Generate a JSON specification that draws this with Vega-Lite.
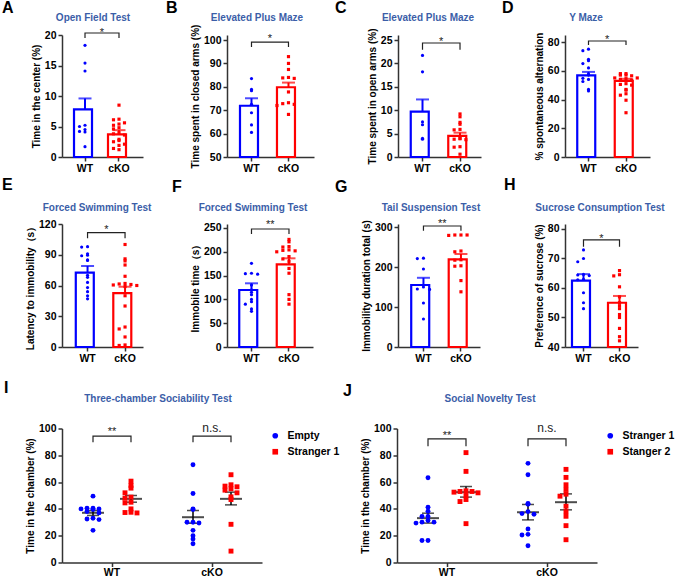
{
"$schema": "https://vega.github.io/schema/vega-lite/v6.json",
"background": "white",
"padding": {"left": 2, "top": 0, "right": 0, "bottom": 0},
"config": {
 "font": "Liberation Sans",
 "view": {"stroke": null},
 "axis": {"grid": false, "labelOverlap": false, "labelFontSize": 10.5, "labelFontWeight": "bold", "labelColor": "#000000", "titleFontSize": 10, "titleFontWeight": "bold", "titleColor": "#000000", "domainColor": "#333333", "domainWidth": 1.5, "tickColor": "#333333", "tickWidth": 1.5, "tickSize": 4, "labelPadding": 2, "titlePadding": 3},
 "axisX": {"labelAngle": 0},
 "legend": {"labelFontSize": 10.5, "labelFontWeight": "bold", "labelColor": "#000000", "symbolSize": 32, "rowPadding": 5, "offset": 6, "padding": 2, "labelOffset": 7}
},
"datasets": {
 "sum": [
  {"p":"A","g":"WT","m":7.8,"hi":9.6},{"p":"A","g":"cKO","m":3.7,"hi":4.4},
  {"p":"B","g":"WT","m":71.9,"hi":75.1},{"p":"B","g":"cKO","m":79.8,"hi":81.8},
  {"p":"C","g":"WT","m":9.7,"hi":12.3},{"p":"C","g":"cKO","m":4.5,"hi":5.2},
  {"p":"D","g":"WT","m":56.8,"hi":59.2},{"p":"D","g":"cKO","m":52.9,"hi":54.4},
  {"p":"E","g":"WT","m":72.5,"hi":79},{"p":"E","g":"cKO","m":52.5,"hi":58.8},
  {"p":"F","g":"WT","m":119.7,"hi":133.8},{"p":"F","g":"cKO","m":173.7,"hi":186.3},
  {"p":"G","g":"WT","m":155,"hi":173},{"p":"G","g":"cKO","m":219,"hi":232.5},
  {"p":"H","g":"WT","m":62.5,"hi":64.7},{"p":"H","g":"cKO","m":55,"hi":57.3}
 ],
 "sum2": [
  {"p":"I","g":"WT","c":"Empty","m":37.1,"lo":35.1,"hi":38.8},
  {"p":"I","g":"WT","c":"Stranger 1","m":47.5,"lo":45,"hi":50},
  {"p":"I","g":"cKO","c":"Empty","m":33.8,"lo":29.3,"hi":38.8},
  {"p":"I","g":"cKO","c":"Stranger 1","m":47.5,"lo":43,"hi":52.5},
  {"p":"J","g":"WT","c":"Stranger 1","m":33.1,"lo":29.4,"hi":36.8},
  {"p":"J","g":"WT","c":"Stanger 2","m":52.5,"lo":48.8,"hi":56.7},
  {"p":"J","g":"cKO","c":"Stranger 1","m":37.5,"lo":31.8,"hi":43.3},
  {"p":"J","g":"cKO","c":"Stanger 2","m":45,"lo":39.3,"hi":51.2}
 ],
 "pts": [
  {"p":"A","g":"WT","v":18.3},{"p":"A","g":"WT","v":15.4},{"p":"A","g":"WT","v":14.1},{"p":"A","g":"WT","v":5.2},{"p":"A","g":"WT","v":5.0},{"p":"A","g":"WT","v":4.5},{"p":"A","g":"WT","v":4.2},{"p":"A","g":"WT","v":4.1},{"p":"A","g":"WT","v":1.7},
  {"p":"A","g":"cKO","v":8.5},{"p":"A","g":"cKO","v":6.2},{"p":"A","g":"cKO","v":6.1},{"p":"A","g":"cKO","v":5.6},{"p":"A","g":"cKO","v":5.4},{"p":"A","g":"cKO","v":5.2},{"p":"A","g":"cKO","v":4.8},{"p":"A","g":"cKO","v":4.6},{"p":"A","g":"cKO","v":4.0},{"p":"A","g":"cKO","v":3.8},{"p":"A","g":"cKO","v":3.6},{"p":"A","g":"cKO","v":2.9},{"p":"A","g":"cKO","v":2.7},{"p":"A","g":"cKO","v":2.5},{"p":"A","g":"cKO","v":2.1},{"p":"A","g":"cKO","v":1.9},{"p":"A","g":"cKO","v":1.4},{"p":"A","g":"cKO","v":1.2},
  {"p":"B","g":"WT","v":83.5},{"p":"B","g":"WT","v":78.9},{"p":"B","g":"WT","v":78.3},{"p":"B","g":"WT","v":72.5},{"p":"B","g":"WT","v":68.9},{"p":"B","g":"WT","v":63.7},{"p":"B","g":"WT","v":60.5},
  {"p":"B","g":"cKO","v":92.9},{"p":"B","g":"cKO","v":90.0},{"p":"B","g":"cKO","v":87.4},{"p":"B","g":"cKO","v":84.0},{"p":"B","g":"cKO","v":83.8},{"p":"B","g":"cKO","v":83.6},{"p":"B","g":"cKO","v":77.8},{"p":"B","g":"cKO","v":73.2},{"p":"B","g":"cKO","v":72.8},{"p":"B","g":"cKO","v":72.5},{"p":"B","g":"cKO","v":72.0},{"p":"B","g":"cKO","v":68.2},
  {"p":"C","g":"WT","v":21.7},{"p":"C","g":"WT","v":18.2},{"p":"C","g":"WT","v":7.5},{"p":"C","g":"WT","v":6.9},{"p":"C","g":"WT","v":4.0},{"p":"C","g":"WT","v":3.8},
  {"p":"C","g":"cKO","v":9.2},{"p":"C","g":"cKO","v":8.6},{"p":"C","g":"cKO","v":7.4},{"p":"C","g":"cKO","v":7.0},{"p":"C","g":"cKO","v":5.9},{"p":"C","g":"cKO","v":5.8},{"p":"C","g":"cKO","v":4.0},{"p":"C","g":"cKO","v":3.9},{"p":"C","g":"cKO","v":3.8},{"p":"C","g":"cKO","v":3.7},{"p":"C","g":"cKO","v":2.2},{"p":"C","g":"cKO","v":2.1},{"p":"C","g":"cKO","v":0.6},
  {"p":"D","g":"WT","v":75},{"p":"D","g":"WT","v":74},{"p":"D","g":"WT","v":68},{"p":"D","g":"WT","v":67},{"p":"D","g":"WT","v":65},{"p":"D","g":"WT","v":62},{"p":"D","g":"WT","v":57.7},{"p":"D","g":"WT","v":57},{"p":"D","g":"WT","v":54.7},{"p":"D","g":"WT","v":54},{"p":"D","g":"WT","v":52.5},{"p":"D","g":"WT","v":47},{"p":"D","g":"WT","v":46},
  {"p":"D","g":"cKO","v":58},{"p":"D","g":"cKO","v":58},{"p":"D","g":"cKO","v":57},{"p":"D","g":"cKO","v":57},{"p":"D","g":"cKO","v":56.5},{"p":"D","g":"cKO","v":55},{"p":"D","g":"cKO","v":55},{"p":"D","g":"cKO","v":54.5},{"p":"D","g":"cKO","v":54},{"p":"D","g":"cKO","v":53.5},{"p":"D","g":"cKO","v":51},{"p":"D","g":"cKO","v":50.5},{"p":"D","g":"cKO","v":50},{"p":"D","g":"cKO","v":47},{"p":"D","g":"cKO","v":46.5},{"p":"D","g":"cKO","v":44},{"p":"D","g":"cKO","v":43},{"p":"D","g":"cKO","v":39.5},{"p":"D","g":"cKO","v":30.8},
  {"p":"E","g":"WT","v":97.9},{"p":"E","g":"WT","v":97.5},{"p":"E","g":"WT","v":91},{"p":"E","g":"WT","v":89.5},{"p":"E","g":"WT","v":89},{"p":"E","g":"WT","v":85},{"p":"E","g":"WT","v":84.5},{"p":"E","g":"WT","v":70},{"p":"E","g":"WT","v":68},{"p":"E","g":"WT","v":63},{"p":"E","g":"WT","v":58},{"p":"E","g":"WT","v":54},{"p":"E","g":"WT","v":50},{"p":"E","g":"WT","v":47},
  {"p":"E","g":"cKO","v":100},{"p":"E","g":"cKO","v":86},{"p":"E","g":"cKO","v":84},{"p":"E","g":"cKO","v":80},{"p":"E","g":"cKO","v":69},{"p":"E","g":"cKO","v":62},{"p":"E","g":"cKO","v":61.5},{"p":"E","g":"cKO","v":61},{"p":"E","g":"cKO","v":60.5},{"p":"E","g":"cKO","v":60},{"p":"E","g":"cKO","v":59},{"p":"E","g":"cKO","v":50},{"p":"E","g":"cKO","v":40},{"p":"E","g":"cKO","v":19.5},{"p":"E","g":"cKO","v":17.6},{"p":"E","g":"cKO","v":9.8},{"p":"E","g":"cKO","v":2},{"p":"E","g":"cKO","v":1.5},
  {"p":"F","g":"WT","v":175.8},{"p":"F","g":"WT","v":155},{"p":"F","g":"WT","v":154},{"p":"F","g":"WT","v":153},{"p":"F","g":"WT","v":130},{"p":"F","g":"WT","v":120},{"p":"F","g":"WT","v":115},{"p":"F","g":"WT","v":110},{"p":"F","g":"WT","v":100},{"p":"F","g":"WT","v":95},{"p":"F","g":"WT","v":90},{"p":"F","g":"WT","v":80},{"p":"F","g":"WT","v":75},
  {"p":"F","g":"cKO","v":226},{"p":"F","g":"cKO","v":221},{"p":"F","g":"cKO","v":211},{"p":"F","g":"cKO","v":210},{"p":"F","g":"cKO","v":204},{"p":"F","g":"cKO","v":203},{"p":"F","g":"cKO","v":202},{"p":"F","g":"cKO","v":200},{"p":"F","g":"cKO","v":190},{"p":"F","g":"cKO","v":185},{"p":"F","g":"cKO","v":180},{"p":"F","g":"cKO","v":165},{"p":"F","g":"cKO","v":155},{"p":"F","g":"cKO","v":110},{"p":"F","g":"cKO","v":100},{"p":"F","g":"cKO","v":90},
  {"p":"G","g":"WT","v":222},{"p":"G","g":"WT","v":221},{"p":"G","g":"WT","v":195},{"p":"G","g":"WT","v":150},{"p":"G","g":"WT","v":145},{"p":"G","g":"WT","v":144},{"p":"G","g":"WT","v":110},{"p":"G","g":"WT","v":70},
  {"p":"G","g":"cKO","v":280},{"p":"G","g":"cKO","v":280},{"p":"G","g":"cKO","v":280},{"p":"G","g":"cKO","v":279},{"p":"G","g":"cKO","v":240},{"p":"G","g":"cKO","v":238},{"p":"G","g":"cKO","v":218},{"p":"G","g":"cKO","v":217},{"p":"G","g":"cKO","v":203},{"p":"G","g":"cKO","v":202},{"p":"G","g":"cKO","v":166},{"p":"G","g":"cKO","v":138},
  {"p":"H","g":"WT","v":72.9},{"p":"H","g":"WT","v":70},{"p":"H","g":"WT","v":68.9},{"p":"H","g":"WT","v":64.6},{"p":"H","g":"WT","v":64.4},{"p":"H","g":"WT","v":64.2},{"p":"H","g":"WT","v":62.9},{"p":"H","g":"WT","v":62.8},{"p":"H","g":"WT","v":58.4},{"p":"H","g":"WT","v":55},{"p":"H","g":"WT","v":53},
  {"p":"H","g":"cKO","v":65.9},{"p":"H","g":"cKO","v":64.5},{"p":"H","g":"cKO","v":64.1},{"p":"H","g":"cKO","v":60.4},{"p":"H","g":"cKO","v":57},{"p":"H","g":"cKO","v":55},{"p":"H","g":"cKO","v":54},{"p":"H","g":"cKO","v":53},{"p":"H","g":"cKO","v":51},{"p":"H","g":"cKO","v":50},{"p":"H","g":"cKO","v":46.3},{"p":"H","g":"cKO","v":43.5},{"p":"H","g":"cKO","v":42.1},
  {"p":"I","g":"WT","c":"Empty","v":49.5},{"p":"I","g":"WT","c":"Empty","v":40.5},{"p":"I","g":"WT","c":"Empty","v":40.5},{"p":"I","g":"WT","c":"Empty","v":40},{"p":"I","g":"WT","c":"Empty","v":40},{"p":"I","g":"WT","c":"Empty","v":39.5},{"p":"I","g":"WT","c":"Empty","v":38},{"p":"I","g":"WT","c":"Empty","v":37},{"p":"I","g":"WT","c":"Empty","v":33},{"p":"I","g":"WT","c":"Empty","v":32.5},{"p":"I","g":"WT","c":"Empty","v":32},{"p":"I","g":"WT","c":"Empty","v":24},
  {"p":"I","g":"WT","c":"Stranger 1","v":60.7},{"p":"I","g":"WT","c":"Stranger 1","v":57.5},{"p":"I","g":"WT","c":"Stranger 1","v":55.5},{"p":"I","g":"WT","c":"Stranger 1","v":52},{"p":"I","g":"WT","c":"Stranger 1","v":48.8},{"p":"I","g":"WT","c":"Stranger 1","v":48},{"p":"I","g":"WT","c":"Stranger 1","v":45},{"p":"I","g":"WT","c":"Stranger 1","v":44.5},{"p":"I","g":"WT","c":"Stranger 1","v":40},{"p":"I","g":"WT","c":"Stranger 1","v":37.5},{"p":"I","g":"WT","c":"Stranger 1","v":37.3},{"p":"I","g":"WT","c":"Stranger 1","v":37},
  {"p":"I","g":"cKO","c":"Empty","v":73},{"p":"I","g":"cKO","c":"Empty","v":51.5},{"p":"I","g":"cKO","c":"Empty","v":40},{"p":"I","g":"cKO","c":"Empty","v":39.5},{"p":"I","g":"cKO","c":"Empty","v":30},{"p":"I","g":"cKO","c":"Empty","v":30},{"p":"I","g":"cKO","c":"Empty","v":29.5},{"p":"I","g":"cKO","c":"Empty","v":24},{"p":"I","g":"cKO","c":"Empty","v":20},{"p":"I","g":"cKO","c":"Empty","v":17.5},{"p":"I","g":"cKO","c":"Empty","v":14},
  {"p":"I","g":"cKO","c":"Stranger 1","v":65.5},{"p":"I","g":"cKO","c":"Stranger 1","v":58},{"p":"I","g":"cKO","c":"Stranger 1","v":57},{"p":"I","g":"cKO","c":"Stranger 1","v":56.5},{"p":"I","g":"cKO","c":"Stranger 1","v":55},{"p":"I","g":"cKO","c":"Stranger 1","v":54},{"p":"I","g":"cKO","c":"Stranger 1","v":52},{"p":"I","g":"cKO","c":"Stranger 1","v":49},{"p":"I","g":"cKO","c":"Stranger 1","v":47},{"p":"I","g":"cKO","c":"Stranger 1","v":28.5},{"p":"I","g":"cKO","c":"Stranger 1","v":8.5},
  {"p":"J","g":"WT","c":"Stranger 1","v":63.2},{"p":"J","g":"WT","c":"Stranger 1","v":41.3},{"p":"J","g":"WT","c":"Stranger 1","v":38.3},{"p":"J","g":"WT","c":"Stranger 1","v":34.3},{"p":"J","g":"WT","c":"Stranger 1","v":34.3},{"p":"J","g":"WT","c":"Stranger 1","v":31.3},{"p":"J","g":"WT","c":"Stranger 1","v":30.1},{"p":"J","g":"WT","c":"Stranger 1","v":30.1},{"p":"J","g":"WT","c":"Stranger 1","v":29.4},{"p":"J","g":"WT","c":"Stranger 1","v":16.4},{"p":"J","g":"WT","c":"Stranger 1","v":16.4},
  {"p":"J","g":"WT","c":"Stanger 2","v":82},{"p":"J","g":"WT","c":"Stanger 2","v":68},{"p":"J","g":"WT","c":"Stanger 2","v":53.5},{"p":"J","g":"WT","c":"Stanger 2","v":53},{"p":"J","g":"WT","c":"Stanger 2","v":53},{"p":"J","g":"WT","c":"Stanger 2","v":52.5},{"p":"J","g":"WT","c":"Stanger 2","v":52},{"p":"J","g":"WT","c":"Stanger 2","v":50},{"p":"J","g":"WT","c":"Stanger 2","v":47},{"p":"J","g":"WT","c":"Stanger 2","v":45.5},{"p":"J","g":"WT","c":"Stanger 2","v":29},
  {"p":"J","g":"cKO","c":"Stranger 1","v":74},{"p":"J","g":"cKO","c":"Stranger 1","v":65.5},{"p":"J","g":"cKO","c":"Stranger 1","v":44},{"p":"J","g":"cKO","c":"Stranger 1","v":43.5},{"p":"J","g":"cKO","c":"Stranger 1","v":38},{"p":"J","g":"cKO","c":"Stranger 1","v":36.5},{"p":"J","g":"cKO","c":"Stranger 1","v":36},{"p":"J","g":"cKO","c":"Stranger 1","v":25},{"p":"J","g":"cKO","c":"Stranger 1","v":21},{"p":"J","g":"cKO","c":"Stranger 1","v":20.5},{"p":"J","g":"cKO","c":"Stranger 1","v":12.5},
  {"p":"J","g":"cKO","c":"Stanger 2","v":69.5},{"p":"J","g":"cKO","c":"Stanger 2","v":63.5},{"p":"J","g":"cKO","c":"Stanger 2","v":58},{"p":"J","g":"cKO","c":"Stanger 2","v":54.5},{"p":"J","g":"cKO","c":"Stanger 2","v":51},{"p":"J","g":"cKO","c":"Stanger 2","v":49.5},{"p":"J","g":"cKO","c":"Stanger 2","v":42},{"p":"J","g":"cKO","c":"Stanger 2","v":38},{"p":"J","g":"cKO","c":"Stanger 2","v":34.5},{"p":"J","g":"cKO","c":"Stanger 2","v":27.5},{"p":"J","g":"cKO","c":"Stanger 2","v":17}
 ]
},
"spacing": 15.5,
"resolve": {"scale": {"color": "independent", "shape": "independent", "xOffset": "independent"}, "legend": {"color": "independent", "shape": "independent"}},
"vconcat": [
 {
  "columns": 4,
  "align": "none",
  "bounds": "flush",
  "spacing": {"row": 67, "column": 84},
  "resolve": {"scale": {"color": "independent", "shape": "independent", "xOffset": "independent"}, "legend": {"color": "independent", "shape": "independent"}},
  "concat": [
   {
    "width": 81, "height": 122,
    "layer": [
     {"data": {"name": "sum"}, "transform": [{"filter": "datum.p === 'A'"}], "mark": {"type": "bar", "filled": false, "strokeWidth": 2.2},
      "encoding": {"x": {"field": "g", "type": "nominal", "sort": ["WT","cKO"], "scale": {"paddingInner": 0.353, "paddingOuter": 0.368, "align": 0.48}, "axis": {"title": null}},
       "y": {"field": "m", "type": "quantitative", "scale": {"domain": [0,20], "nice": false}, "axis": {"title": "Time in the center (%)", "values": [0,5,10,15,20], "tickCount": 20, "labelOverlap": false}},
       "y2": {"datum": 0},
       "color": {"field": "g", "type": "nominal", "scale": {"domain": ["WT","cKO"], "range": ["#0000ff","#ff0000"]}, "legend": null}}},
     {"data": {"name": "sum"}, "transform": [{"filter": "datum.p === 'A'"}], "mark": {"type": "rule", "strokeWidth": 2},
      "encoding": {"x": {"field": "g", "type": "nominal", "sort": ["WT","cKO"]}, "y": {"field": "m", "type": "quantitative"}, "y2": {"field": "hi"}, "color": {"field": "g", "type": "nominal", "legend": null}}},
     {"data": {"name": "sum"}, "transform": [{"filter": "datum.p === 'A'"}], "mark": {"type": "tick", "thickness": 2, "size": 13},
      "encoding": {"x": {"field": "g", "type": "nominal", "sort": ["WT","cKO"]}, "y": {"field": "hi", "type": "quantitative"}, "color": {"field": "g", "type": "nominal", "legend": null}}},
     {"data": {"name": "pts"}, "transform": [{"filter": "datum.p === 'A'"}, {"bin": {"step": 0.7}, "field": "v", "as": "vb"}, {"window": [{"op": "row_number", "as": "r"}], "groupby": ["g","vb"], "sort": [{"field": "v", "order": "descending"}]}],
      "mark": {"type": "point", "filled": true, "size": 10, "opacity": 1},
      "encoding": {"x": {"field": "g", "type": "nominal", "sort": ["WT","cKO"]}, "xOffset": {"field": "r", "type": "ordinal", "scale": {"domain": [4,2,1,3,5], "paddingInner": 0, "paddingOuter": 0}},
       "y": {"field": "v", "type": "quantitative"}, "color": {"field": "g", "type": "nominal", "legend": null},
       "shape": {"field": "g", "type": "nominal", "scale": {"domain": ["WT","cKO"], "range": ["circle","square"]}, "legend": null}}},
     {"data": {"values": [{"g":"WT","y":19.5,"o":1},{"g":"WT","y":20.33,"o":2},{"g":"cKO","y":20.33,"o":3},{"g":"cKO","y":19.5,"o":4}]},
      "mark": {"type": "line", "color": "#222222", "strokeWidth": 1.2},
      "encoding": {"x": {"field": "g", "type": "nominal", "sort": ["WT","cKO"]}, "y": {"field": "y", "type": "quantitative"}, "order": {"field": "o", "type": "quantitative"}}},
     {"data": {"values": [{"t":"*","y":19.8}]}, "mark": {"type": "text", "dx": 17, "fontSize": 11, "baseline": "alphabetic", "color": "#222222"},
      "encoding": {"x": {"datum": "WT", "type": "nominal"}, "y": {"field": "y", "type": "quantitative"}, "text": {"field": "t"}}},
     {"data": {"values": [{"t":"Open Field Test","y":20}]}, "mark": {"type": "text", "dx": 8, "dy": -14.4, "fontSize": 10, "fontWeight": "bold", "color": "#3b5ea8", "baseline": "alphabetic", "align": "center"},
      "encoding": {"x": {"datum": "WT", "type": "nominal"}, "y": {"field": "y", "type": "quantitative"}, "text": {"field": "t"}}},
     {"data": {"values": [{"t":"A","y":20}]}, "mark": {"type": "text", "dx": -83, "dy": -22, "fontSize": 16, "fontWeight": "bold", "color": "#000000", "baseline": "alphabetic", "align": "left"},
      "encoding": {"x": {"datum": "WT", "type": "nominal"}, "y": {"field": "y", "type": "quantitative"}, "text": {"field": "t"}}}
    ]
   },
   {
    "width": 87, "height": 122,
    "layer": [
     {"data": {"name": "sum"}, "transform": [{"filter": "datum.p === 'B'"}], "mark": {"type": "bar", "filled": false, "strokeWidth": 2.2},
      "encoding": {"x": {"field": "g", "type": "nominal", "sort": ["WT","cKO"], "scale": {"paddingInner": 0.378, "paddingOuter": 0.365, "align": 0.481}, "axis": {"title": null}},
       "y": {"field": "m", "type": "quantitative", "scale": {"domain": [50,102.14], "nice": false}, "axis": {"title": "Time spent in closed arms (%)", "values": [50,60,70,80,90,100], "tickCount": 20, "labelOverlap": false}},
       "y2": {"datum": 50},
       "color": {"field": "g", "type": "nominal", "scale": {"domain": ["WT","cKO"], "range": ["#0000ff","#ff0000"]}, "legend": null}}},
     {"data": {"name": "sum"}, "transform": [{"filter": "datum.p === 'B'"}], "mark": {"type": "rule", "strokeWidth": 2},
      "encoding": {"x": {"field": "g", "type": "nominal", "sort": ["WT","cKO"]}, "y": {"field": "m", "type": "quantitative"}, "y2": {"field": "hi"}, "color": {"field": "g", "type": "nominal", "legend": null}}},
     {"data": {"name": "sum"}, "transform": [{"filter": "datum.p === 'B'"}], "mark": {"type": "tick", "thickness": 2, "size": 13},
      "encoding": {"x": {"field": "g", "type": "nominal", "sort": ["WT","cKO"]}, "y": {"field": "hi", "type": "quantitative"}, "color": {"field": "g", "type": "nominal", "legend": null}}},
     {"data": {"name": "pts"}, "transform": [{"filter": "datum.p === 'B'"}, {"bin": {"step": 1.6}, "field": "v", "as": "vb"}, {"window": [{"op": "row_number", "as": "r"}], "groupby": ["g","vb"], "sort": [{"field": "v", "order": "descending"}]}],
      "mark": {"type": "point", "filled": true, "size": 10, "opacity": 1},
      "encoding": {"x": {"field": "g", "type": "nominal", "sort": ["WT","cKO"]}, "xOffset": {"field": "r", "type": "ordinal", "scale": {"domain": [4,2,1,3,5], "paddingInner": 0, "paddingOuter": 0}},
       "y": {"field": "v", "type": "quantitative"}, "color": {"field": "g", "type": "nominal", "legend": null},
       "shape": {"field": "g", "type": "nominal", "scale": {"domain": ["WT","cKO"], "range": ["circle","square"]}, "legend": null}}},
     {"data": {"values": [{"g":"WT","y":97.0,"o":1},{"g":"WT","y":99.1,"o":2},{"g":"cKO","y":99.1,"o":3},{"g":"cKO","y":97.0,"o":4}]},
      "mark": {"type": "line", "color": "#222222", "strokeWidth": 1.2},
      "encoding": {"x": {"field": "g", "type": "nominal", "sort": ["WT","cKO"]}, "y": {"field": "y", "type": "quantitative"}, "order": {"field": "o", "type": "quantitative"}}},
     {"data": {"values": [{"t":"*","y":99.0}]}, "mark": {"type": "text", "dx": 18.5, "fontSize": 11, "baseline": "alphabetic", "color": "#222222"},
      "encoding": {"x": {"datum": "WT", "type": "nominal"}, "y": {"field": "y", "type": "quantitative"}, "text": {"field": "t"}}},
     {"data": {"values": [{"t":"Elevated Plus Maze","y":102.14}]}, "mark": {"type": "text", "dx": 5.5, "dy": -14.4, "fontSize": 10, "fontWeight": "bold", "color": "#3b5ea8", "baseline": "alphabetic", "align": "center"},
      "encoding": {"x": {"datum": "WT", "type": "nominal"}, "y": {"field": "y", "type": "quantitative"}, "text": {"field": "t"}}},
     {"data": {"values": [{"t":"B","y":102.14}]}, "mark": {"type": "text", "dx": -85.5, "dy": -22, "fontSize": 16, "fontWeight": "bold", "color": "#000000", "baseline": "alphabetic", "align": "left"},
      "encoding": {"x": {"datum": "WT", "type": "nominal"}, "y": {"field": "y", "type": "quantitative"}, "text": {"field": "t"}}}
    ]
   },
   {
    "width": 83, "height": 122,
    "layer": [
     {"data": {"name": "sum"}, "transform": [{"filter": "datum.p === 'C'"}], "mark": {"type": "bar", "filled": false, "strokeWidth": 2.2},
      "encoding": {"x": {"field": "g", "type": "nominal", "sort": ["WT","cKO"], "scale": {"paddingInner": 0.373, "paddingOuter": 0.293, "align": 0.58}, "axis": {"title": null}},
       "y": {"field": "m", "type": "quantitative", "scale": {"domain": [0,26.07], "nice": false}, "axis": {"title": "Time spent in open arms (%)", "values": [0,5,10,15,20,25], "tickCount": 20, "labelOverlap": false}},
       "y2": {"datum": 0},
       "color": {"field": "g", "type": "nominal", "scale": {"domain": ["WT","cKO"], "range": ["#0000ff","#ff0000"]}, "legend": null}}},
     {"data": {"name": "sum"}, "transform": [{"filter": "datum.p === 'C'"}], "mark": {"type": "rule", "strokeWidth": 2},
      "encoding": {"x": {"field": "g", "type": "nominal", "sort": ["WT","cKO"]}, "y": {"field": "m", "type": "quantitative"}, "y2": {"field": "hi"}, "color": {"field": "g", "type": "nominal", "legend": null}}},
     {"data": {"name": "sum"}, "transform": [{"filter": "datum.p === 'C'"}], "mark": {"type": "tick", "thickness": 2, "size": 13},
      "encoding": {"x": {"field": "g", "type": "nominal", "sort": ["WT","cKO"]}, "y": {"field": "hi", "type": "quantitative"}, "color": {"field": "g", "type": "nominal", "legend": null}}},
     {"data": {"name": "pts"}, "transform": [{"filter": "datum.p === 'C'"}, {"bin": {"step": 0.8}, "field": "v", "as": "vb"}, {"window": [{"op": "row_number", "as": "r"}], "groupby": ["g","vb"], "sort": [{"field": "v", "order": "descending"}]}],
      "mark": {"type": "point", "filled": true, "size": 10, "opacity": 1},
      "encoding": {"x": {"field": "g", "type": "nominal", "sort": ["WT","cKO"]}, "xOffset": {"field": "r", "type": "ordinal", "scale": {"domain": [4,2,1,3,5], "paddingInner": 0, "paddingOuter": 0}},
       "y": {"field": "v", "type": "quantitative"}, "color": {"field": "g", "type": "nominal", "legend": null},
       "shape": {"field": "g", "type": "nominal", "scale": {"domain": ["WT","cKO"], "range": ["circle","square"]}, "legend": null}}},
     {"data": {"values": [{"g":"WT","y":22.9,"o":1},{"g":"WT","y":24.36,"o":2},{"g":"cKO","y":24.36,"o":3},{"g":"cKO","y":22.9,"o":4}]},
      "mark": {"type": "line", "color": "#222222", "strokeWidth": 1.2},
      "encoding": {"x": {"field": "g", "type": "nominal", "sort": ["WT","cKO"]}, "y": {"field": "y", "type": "quantitative"}, "order": {"field": "o", "type": "quantitative"}}},
     {"data": {"values": [{"t":"*","y":23.87}]}, "mark": {"type": "text", "dx": 18.75, "fontSize": 11, "baseline": "alphabetic", "color": "#222222"},
      "encoding": {"x": {"datum": "WT", "type": "nominal"}, "y": {"field": "y", "type": "quantitative"}, "text": {"field": "t"}}},
     {"data": {"values": [{"t":"Elevated Plus Maze","y":26.07}]}, "mark": {"type": "text", "dx": 5.5, "dy": -14.4, "fontSize": 10, "fontWeight": "bold", "color": "#3b5ea8", "baseline": "alphabetic", "align": "center"},
      "encoding": {"x": {"datum": "WT", "type": "nominal"}, "y": {"field": "y", "type": "quantitative"}, "text": {"field": "t"}}},
     {"data": {"values": [{"t":"C","y":26.07}]}, "mark": {"type": "text", "dx": -87.5, "dy": -22, "fontSize": 16, "fontWeight": "bold", "color": "#000000", "baseline": "alphabetic", "align": "left"},
      "encoding": {"x": {"datum": "WT", "type": "nominal"}, "y": {"field": "y", "type": "quantitative"}, "text": {"field": "t"}}}
    ]
   },
   {
    "width": 85, "height": 122,
    "layer": [
     {"data": {"name": "sum"}, "transform": [{"filter": "datum.p === 'D'"}], "mark": {"type": "bar", "filled": false, "strokeWidth": 2.2},
      "encoding": {"x": {"field": "g", "type": "nominal", "sort": ["WT","cKO"], "scale": {"paddingInner": 0.4, "paddingOuter": 0.333, "align": 0.49}, "axis": {"title": null}},
       "y": {"field": "m", "type": "quantitative", "scale": {"domain": [0,84.87], "nice": false}, "axis": {"title": "% spontaneous alternation", "values": [0,20,40,60,80], "tickCount": 20, "labelOverlap": false}},
       "y2": {"datum": 0},
       "color": {"field": "g", "type": "nominal", "scale": {"domain": ["WT","cKO"], "range": ["#0000ff","#ff0000"]}, "legend": null}}},
     {"data": {"name": "sum"}, "transform": [{"filter": "datum.p === 'D'"}], "mark": {"type": "rule", "strokeWidth": 2},
      "encoding": {"x": {"field": "g", "type": "nominal", "sort": ["WT","cKO"]}, "y": {"field": "m", "type": "quantitative"}, "y2": {"field": "hi"}, "color": {"field": "g", "type": "nominal", "legend": null}}},
     {"data": {"name": "sum"}, "transform": [{"filter": "datum.p === 'D'"}], "mark": {"type": "tick", "thickness": 2, "size": 13},
      "encoding": {"x": {"field": "g", "type": "nominal", "sort": ["WT","cKO"]}, "y": {"field": "hi", "type": "quantitative"}, "color": {"field": "g", "type": "nominal", "legend": null}}},
     {"data": {"name": "pts"}, "transform": [{"filter": "datum.p === 'D'"}, {"bin": {"step": 2.6}, "field": "v", "as": "vb"}, {"window": [{"op": "row_number", "as": "r"}], "groupby": ["g","vb"], "sort": [{"field": "v", "order": "descending"}]}],
      "mark": {"type": "point", "filled": true, "size": 10, "opacity": 1},
      "encoding": {"x": {"field": "g", "type": "nominal", "sort": ["WT","cKO"]}, "xOffset": {"field": "r", "type": "ordinal", "scale": {"domain": [4,2,1,3,5], "paddingInner": 0, "paddingOuter": 0}},
       "y": {"field": "v", "type": "quantitative"}, "color": {"field": "g", "type": "nominal", "legend": null},
       "shape": {"field": "g", "type": "nominal", "scale": {"domain": ["WT","cKO"], "range": ["circle","square"]}, "legend": null}}},
     {"data": {"values": [{"g":"WT","y":77.9,"o":1},{"g":"WT","y":80.7,"o":2},{"g":"cKO","y":80.7,"o":3},{"g":"cKO","y":77.9,"o":4}]},
      "mark": {"type": "line", "color": "#222222", "strokeWidth": 1.2},
      "encoding": {"x": {"field": "g", "type": "nominal", "sort": ["WT","cKO"]}, "y": {"field": "y", "type": "quantitative"}, "order": {"field": "o", "type": "quantitative"}}},
     {"data": {"values": [{"t":"*","y":79.1}]}, "mark": {"type": "text", "dx": 18.75, "fontSize": 11, "baseline": "alphabetic", "color": "#222222"},
      "encoding": {"x": {"datum": "WT", "type": "nominal"}, "y": {"field": "y", "type": "quantitative"}, "text": {"field": "t"}}},
     {"data": {"values": [{"t":"Y Maze","y":84.87}]}, "mark": {"type": "text", "dx": -2.5, "dy": -14.4, "fontSize": 10, "fontWeight": "bold", "color": "#3b5ea8", "baseline": "alphabetic", "align": "center"},
      "encoding": {"x": {"datum": "WT", "type": "nominal"}, "y": {"field": "y", "type": "quantitative"}, "text": {"field": "t"}}},
     {"data": {"values": [{"t":"D","y":84.87}]}, "mark": {"type": "text", "dx": -86.5, "dy": -22, "fontSize": 16, "fontWeight": "bold", "color": "#000000", "baseline": "alphabetic", "align": "left"},
      "encoding": {"x": {"datum": "WT", "type": "nominal"}, "y": {"field": "y", "type": "quantitative"}, "text": {"field": "t"}}}
    ]
   },
   {
    "width": 81, "height": 123,
    "layer": [
     {"data": {"name": "sum"}, "transform": [{"filter": "datum.p === 'E'"}], "mark": {"type": "bar", "filled": false, "strokeWidth": 2.2},
      "encoding": {"x": {"field": "g", "type": "nominal", "sort": ["WT","cKO"], "scale": {"paddingInner": 0.373, "paddingOuter": 0.2665, "align": 0.69}, "axis": {"title": null}},
       "y": {"field": "m", "type": "quantitative", "scale": {"domain": [0,120], "nice": false}, "axis": {"title": "Latency to immobility（s）", "values": [0,30,60,90,120], "tickCount": 20, "labelOverlap": false}},
       "y2": {"datum": 0},
       "color": {"field": "g", "type": "nominal", "scale": {"domain": ["WT","cKO"], "range": ["#0000ff","#ff0000"]}, "legend": null}}},
     {"data": {"name": "sum"}, "transform": [{"filter": "datum.p === 'E'"}], "mark": {"type": "rule", "strokeWidth": 2},
      "encoding": {"x": {"field": "g", "type": "nominal", "sort": ["WT","cKO"]}, "y": {"field": "m", "type": "quantitative"}, "y2": {"field": "hi"}, "color": {"field": "g", "type": "nominal", "legend": null}}},
     {"data": {"name": "sum"}, "transform": [{"filter": "datum.p === 'E'"}], "mark": {"type": "tick", "thickness": 2, "size": 13},
      "encoding": {"x": {"field": "g", "type": "nominal", "sort": ["WT","cKO"]}, "y": {"field": "hi", "type": "quantitative"}, "color": {"field": "g", "type": "nominal", "legend": null}}},
     {"data": {"name": "pts"}, "transform": [{"filter": "datum.p === 'E'"}, {"bin": {"step": 2.5}, "field": "v", "as": "vb"}, {"window": [{"op": "row_number", "as": "r"}], "groupby": ["g","vb"], "sort": [{"field": "v", "order": "descending"}]}],
      "mark": {"type": "point", "filled": true, "size": 10, "opacity": 1},
      "encoding": {"x": {"field": "g", "type": "nominal", "sort": ["WT","cKO"]}, "xOffset": {"field": "r", "type": "ordinal", "scale": {"domain": [4,2,1,3,5], "paddingInner": 0, "paddingOuter": 0}},
       "y": {"field": "v", "type": "quantitative"}, "color": {"field": "g", "type": "nominal", "legend": null},
       "shape": {"field": "g", "type": "nominal", "scale": {"domain": ["WT","cKO"], "range": ["circle","square"]}, "legend": null}}},
     {"data": {"values": [{"g":"WT","y":106,"o":1},{"g":"WT","y":111.5,"o":2},{"g":"cKO","y":111.5,"o":3},{"g":"cKO","y":106,"o":4}]},
      "mark": {"type": "line", "color": "#222222", "strokeWidth": 1.2},
      "encoding": {"x": {"field": "g", "type": "nominal", "sort": ["WT","cKO"]}, "y": {"field": "y", "type": "quantitative"}, "order": {"field": "o", "type": "quantitative"}}},
     {"data": {"values": [{"t":"*","y":110.9}]}, "mark": {"type": "text", "dx": 18.75, "fontSize": 11, "baseline": "alphabetic", "color": "#222222"},
      "encoding": {"x": {"datum": "WT", "type": "nominal"}, "y": {"field": "y", "type": "quantitative"}, "text": {"field": "t"}}},
     {"data": {"values": [{"t":"Forced Swimming Test","y":120}]}, "mark": {"type": "text", "dx": 9.5, "dy": -13.4, "fontSize": 10, "fontWeight": "bold", "color": "#3b5ea8", "baseline": "alphabetic", "align": "center"},
      "encoding": {"x": {"datum": "WT", "type": "nominal"}, "y": {"field": "y", "type": "quantitative"}, "text": {"field": "t"}}},
     {"data": {"values": [{"t":"E","y":120}]}, "mark": {"type": "text", "dx": -85.5, "dy": -34, "fontSize": 16, "fontWeight": "bold", "color": "#000000", "baseline": "alphabetic", "align": "left"},
      "encoding": {"x": {"datum": "WT", "type": "nominal"}, "y": {"field": "y", "type": "quantitative"}, "text": {"field": "t"}}}
    ]
   },
   {
    "width": 86, "height": 123,
    "layer": [
     {"data": {"name": "sum"}, "transform": [{"filter": "datum.p === 'F'"}], "mark": {"type": "bar", "filled": false, "strokeWidth": 2.2},
      "encoding": {"x": {"field": "g", "type": "nominal", "sort": ["WT","cKO"], "scale": {"paddingInner": 0.347, "paddingOuter": 0.32, "align": 0.51}, "axis": {"title": null}},
       "y": {"field": "m", "type": "quantitative", "scale": {"domain": [0,258.4], "nice": false}, "axis": {"title": "Immobile time（s）", "values": [0,50,100,150,200,250], "tickCount": 20, "labelOverlap": false}},
       "y2": {"datum": 0},
       "color": {"field": "g", "type": "nominal", "scale": {"domain": ["WT","cKO"], "range": ["#0000ff","#ff0000"]}, "legend": null}}},
     {"data": {"name": "sum"}, "transform": [{"filter": "datum.p === 'F'"}], "mark": {"type": "rule", "strokeWidth": 2},
      "encoding": {"x": {"field": "g", "type": "nominal", "sort": ["WT","cKO"]}, "y": {"field": "m", "type": "quantitative"}, "y2": {"field": "hi"}, "color": {"field": "g", "type": "nominal", "legend": null}}},
     {"data": {"name": "sum"}, "transform": [{"filter": "datum.p === 'F'"}], "mark": {"type": "tick", "thickness": 2, "size": 13},
      "encoding": {"x": {"field": "g", "type": "nominal", "sort": ["WT","cKO"]}, "y": {"field": "hi", "type": "quantitative"}, "color": {"field": "g", "type": "nominal", "legend": null}}},
     {"data": {"name": "pts"}, "transform": [{"filter": "datum.p === 'F'"}, {"bin": {"step": 8}, "field": "v", "as": "vb"}, {"window": [{"op": "row_number", "as": "r"}], "groupby": ["g","vb"], "sort": [{"field": "v", "order": "descending"}]}],
      "mark": {"type": "point", "filled": true, "size": 10, "opacity": 1},
      "encoding": {"x": {"field": "g", "type": "nominal", "sort": ["WT","cKO"]}, "xOffset": {"field": "r", "type": "ordinal", "scale": {"domain": [4,2,1,3,5], "paddingInner": 0, "paddingOuter": 0}},
       "y": {"field": "v", "type": "quantitative"}, "color": {"field": "g", "type": "nominal", "legend": null},
       "shape": {"field": "g", "type": "nominal", "scale": {"domain": ["WT","cKO"], "range": ["circle","square"]}, "legend": null}}},
     {"data": {"values": [{"g":"WT","y":237.4,"o":1},{"g":"WT","y":247.9,"o":2},{"g":"cKO","y":247.9,"o":3},{"g":"cKO","y":237.4,"o":4}]},
      "mark": {"type": "line", "color": "#222222", "strokeWidth": 1.2},
      "encoding": {"x": {"field": "g", "type": "nominal", "sort": ["WT","cKO"]}, "y": {"field": "y", "type": "quantitative"}, "order": {"field": "o", "type": "quantitative"}}},
     {"data": {"values": [{"t":"**","y":250}]}, "mark": {"type": "text", "dx": 18.75, "fontSize": 11, "baseline": "alphabetic", "color": "#222222"},
      "encoding": {"x": {"datum": "WT", "type": "nominal"}, "y": {"field": "y", "type": "quantitative"}, "text": {"field": "t"}}},
     {"data": {"values": [{"t":"Forced Swimming Test","y":258.4}]}, "mark": {"type": "text", "dx": 1.5, "dy": -13.4, "fontSize": 10, "fontWeight": "bold", "color": "#3b5ea8", "baseline": "alphabetic", "align": "center"},
      "encoding": {"x": {"datum": "WT", "type": "nominal"}, "y": {"field": "y", "type": "quantitative"}, "text": {"field": "t"}}},
     {"data": {"values": [{"t":"F","y":258.4}]}, "mark": {"type": "text", "dx": -79.5, "dy": -32, "fontSize": 16, "fontWeight": "bold", "color": "#000000", "baseline": "alphabetic", "align": "left"},
      "encoding": {"x": {"datum": "WT", "type": "nominal"}, "y": {"field": "y", "type": "quantitative"}, "text": {"field": "t"}}}
    ]
   },
   {
    "width": 82, "height": 123,
    "layer": [
     {"data": {"name": "sum"}, "transform": [{"filter": "datum.p === 'G'"}], "mark": {"type": "bar", "filled": false, "strokeWidth": 2.2},
      "encoding": {"x": {"field": "g", "type": "nominal", "sort": ["WT","cKO"], "scale": {"paddingInner": 0.347, "paddingOuter": 0.267, "align": 0.66}, "axis": {"title": null}},
       "y": {"field": "m", "type": "quantitative", "scale": {"domain": [0,307.5], "nice": false}, "axis": {"title": "Immobility duration total (s)", "values": [0,100,200,300], "tickCount": 20, "labelOverlap": false}},
       "y2": {"datum": 0},
       "color": {"field": "g", "type": "nominal", "scale": {"domain": ["WT","cKO"], "range": ["#0000ff","#ff0000"]}, "legend": null}}},
     {"data": {"name": "sum"}, "transform": [{"filter": "datum.p === 'G'"}], "mark": {"type": "rule", "strokeWidth": 2},
      "encoding": {"x": {"field": "g", "type": "nominal", "sort": ["WT","cKO"]}, "y": {"field": "m", "type": "quantitative"}, "y2": {"field": "hi"}, "color": {"field": "g", "type": "nominal", "legend": null}}},
     {"data": {"name": "sum"}, "transform": [{"filter": "datum.p === 'G'"}], "mark": {"type": "tick", "thickness": 2, "size": 13},
      "encoding": {"x": {"field": "g", "type": "nominal", "sort": ["WT","cKO"]}, "y": {"field": "hi", "type": "quantitative"}, "color": {"field": "g", "type": "nominal", "legend": null}}},
     {"data": {"name": "pts"}, "transform": [{"filter": "datum.p === 'G'"}, {"bin": {"step": 9}, "field": "v", "as": "vb"}, {"window": [{"op": "row_number", "as": "r"}], "groupby": ["g","vb"], "sort": [{"field": "v", "order": "descending"}]}],
      "mark": {"type": "point", "filled": true, "size": 10, "opacity": 1},
      "encoding": {"x": {"field": "g", "type": "nominal", "sort": ["WT","cKO"]}, "xOffset": {"field": "r", "type": "ordinal", "scale": {"domain": [4,2,1,3,5], "paddingInner": 0, "paddingOuter": 0}},
       "y": {"field": "v", "type": "quantitative"}, "color": {"field": "g", "type": "nominal", "legend": null},
       "shape": {"field": "g", "type": "nominal", "scale": {"domain": ["WT","cKO"], "range": ["circle","square"]}, "legend": null}}},
     {"data": {"values": [{"g":"WT","y":290.8,"o":1},{"g":"WT","y":302.5,"o":2},{"g":"cKO","y":302.5,"o":3},{"g":"cKO","y":290.8,"o":4}]},
      "mark": {"type": "line", "color": "#222222", "strokeWidth": 1.2},
      "encoding": {"x": {"field": "g", "type": "nominal", "sort": ["WT","cKO"]}, "y": {"field": "y", "type": "quantitative"}, "order": {"field": "o", "type": "quantitative"}}},
     {"data": {"values": [{"t":"**","y":299}]}, "mark": {"type": "text", "dx": 18.75, "fontSize": 11, "baseline": "alphabetic", "color": "#222222"},
      "encoding": {"x": {"datum": "WT", "type": "nominal"}, "y": {"field": "y", "type": "quantitative"}, "text": {"field": "t"}}},
     {"data": {"values": [{"t":"Tail Suspension Test","y":307.5}]}, "mark": {"type": "text", "dx": 7.5, "dy": -13.4, "fontSize": 10, "fontWeight": "bold", "color": "#3b5ea8", "baseline": "alphabetic", "align": "center"},
      "encoding": {"x": {"datum": "WT", "type": "nominal"}, "y": {"field": "y", "type": "quantitative"}, "text": {"field": "t"}}},
     {"data": {"values": [{"t":"G","y":307.5}]}, "mark": {"type": "text", "dx": -88.5, "dy": -32, "fontSize": 16, "fontWeight": "bold", "color": "#000000", "baseline": "alphabetic", "align": "left"},
      "encoding": {"x": {"datum": "WT", "type": "nominal"}, "y": {"field": "y", "type": "quantitative"}, "text": {"field": "t"}}}
    ]
   },
   {
    "width": 73, "height": 123,
    "layer": [
     {"data": {"name": "sum"}, "transform": [{"filter": "datum.p === 'H'"}], "mark": {"type": "bar", "filled": false, "strokeWidth": 2.2},
      "encoding": {"x": {"field": "g", "type": "nominal", "sort": ["WT","cKO"], "scale": {"paddingInner": 0.361, "paddingOuter": 0.194, "align": 0.5}, "axis": {"title": null}},
       "y": {"field": "m", "type": "quantitative", "scale": {"domain": [40,81.69], "nice": false}, "axis": {"title": "Preference of sucrose (%)", "values": [40,50,60,70,80], "tickCount": 20, "labelOverlap": false}},
       "y2": {"datum": 40},
       "color": {"field": "g", "type": "nominal", "scale": {"domain": ["WT","cKO"], "range": ["#0000ff","#ff0000"]}, "legend": null}}},
     {"data": {"name": "sum"}, "transform": [{"filter": "datum.p === 'H'"}], "mark": {"type": "rule", "strokeWidth": 2},
      "encoding": {"x": {"field": "g", "type": "nominal", "sort": ["WT","cKO"]}, "y": {"field": "m", "type": "quantitative"}, "y2": {"field": "hi"}, "color": {"field": "g", "type": "nominal", "legend": null}}},
     {"data": {"name": "sum"}, "transform": [{"filter": "datum.p === 'H'"}], "mark": {"type": "tick", "thickness": 2, "size": 13},
      "encoding": {"x": {"field": "g", "type": "nominal", "sort": ["WT","cKO"]}, "y": {"field": "hi", "type": "quantitative"}, "color": {"field": "g", "type": "nominal", "legend": null}}},
     {"data": {"name": "pts"}, "transform": [{"filter": "datum.p === 'H'"}, {"bin": {"step": 1.3}, "field": "v", "as": "vb"}, {"window": [{"op": "row_number", "as": "r"}], "groupby": ["g","vb"], "sort": [{"field": "v", "order": "descending"}]}],
      "mark": {"type": "point", "filled": true, "size": 10, "opacity": 1},
      "encoding": {"x": {"field": "g", "type": "nominal", "sort": ["WT","cKO"]}, "xOffset": {"field": "r", "type": "ordinal", "scale": {"domain": [4,2,1,3,5], "paddingInner": 0, "paddingOuter": 0}},
       "y": {"field": "v", "type": "quantitative"}, "color": {"field": "g", "type": "nominal", "legend": null},
       "shape": {"field": "g", "type": "nominal", "scale": {"domain": ["WT","cKO"], "range": ["circle","square"]}, "legend": null}}},
     {"data": {"values": [{"g":"WT","y":74,"o":1},{"g":"WT","y":76.3,"o":2},{"g":"cKO","y":76.3,"o":3},{"g":"cKO","y":74,"o":4}]},
      "mark": {"type": "line", "color": "#222222", "strokeWidth": 1.2},
      "encoding": {"x": {"field": "g", "type": "nominal", "sort": ["WT","cKO"]}, "y": {"field": "y", "type": "quantitative"}, "order": {"field": "o", "type": "quantitative"}}},
     {"data": {"values": [{"t":"*","y":75.5}]}, "mark": {"type": "text", "dx": 18, "fontSize": 11, "baseline": "alphabetic", "color": "#222222"},
      "encoding": {"x": {"datum": "WT", "type": "nominal"}, "y": {"field": "y", "type": "quantitative"}, "text": {"field": "t"}}},
     {"data": {"values": [{"t":"Sucrose Consumption Test","y":81.69}]}, "mark": {"type": "text", "dx": 16.5, "dy": -13.4, "fontSize": 10, "fontWeight": "bold", "color": "#3b5ea8", "baseline": "alphabetic", "align": "center"},
      "encoding": {"x": {"datum": "WT", "type": "nominal"}, "y": {"field": "y", "type": "quantitative"}, "text": {"field": "t"}}},
     {"data": {"values": [{"t":"H","y":81.69}]}, "mark": {"type": "text", "dx": -79.5, "dy": -34, "fontSize": 16, "fontWeight": "bold", "color": "#000000", "baseline": "alphabetic", "align": "left"},
      "encoding": {"x": {"datum": "WT", "type": "nominal"}, "y": {"field": "y", "type": "quantitative"}, "text": {"field": "t"}}}
    ]
   }
  ]
 },
 {
  "bounds": "flush",
  "spacing": 135,
  "resolve": {"scale": {"color": "independent", "shape": "independent", "xOffset": "independent"}, "legend": {"color": "independent", "shape": "independent"}},
  "hconcat": [
   {
    "width": 200, "height": 134,
    "layer": [
     {"layer": [
      {"data": {"name": "sum2"}, "transform": [{"filter": "datum.p === 'I'"}], "mark": {"type": "tick", "color": "#000000", "thickness": 2, "size": 22},
       "encoding": {"x": {"field": "g", "type": "nominal", "sort": ["WT","cKO"], "scale": {"paddingInner": 0, "paddingOuter": 0}, "axis": {"title": null, "labelPadding": 1}},
        "xOffset": {"field": "c", "type": "nominal", "sort": ["Empty","Stranger 1"], "scale": {"paddingInner": 0.368, "paddingOuter": 0.5}},
        "y": {"field": "m", "type": "quantitative", "scale": {"domain": [0,100], "nice": false}, "axis": {"title": "Time in the chamber (%)", "values": [0,20,40,60,80,100], "tickCount": 20, "labelOverlap": false}}}},
      {"data": {"name": "sum2"}, "transform": [{"filter": "datum.p === 'I'"}], "mark": {"type": "rule", "color": "#000000", "strokeWidth": 1.5},
       "encoding": {"x": {"field": "g", "type": "nominal", "sort": ["WT","cKO"]}, "xOffset": {"field": "c", "type": "nominal", "sort": ["Empty","Stranger 1"]}, "y": {"field": "lo", "type": "quantitative"}, "y2": {"field": "hi"}}},
      {"data": {"name": "sum2"}, "transform": [{"filter": "datum.p === 'I'"}, {"fold": ["lo","hi"], "as": ["k","val"]}], "mark": {"type": "tick", "color": "#000000", "thickness": 1.5, "size": 12},
       "encoding": {"x": {"field": "g", "type": "nominal", "sort": ["WT","cKO"]}, "xOffset": {"field": "c", "type": "nominal", "sort": ["Empty","Stranger 1"]}, "y": {"field": "val", "type": "quantitative"}}},
      {"data": {"values": [{"g":"WT","c":"Empty","y":89.8,"o":1},{"g":"WT","c":"Empty","y":94.25,"o":2},{"g":"WT","c":"Stranger 1","y":94.25,"o":3},{"g":"WT","c":"Stranger 1","y":89.8,"o":4},{"g":"cKO","c":"Empty","y":89.8,"o":1},{"g":"cKO","c":"Empty","y":94.25,"o":2},{"g":"cKO","c":"Stranger 1","y":94.25,"o":3},{"g":"cKO","c":"Stranger 1","y":89.8,"o":4}]},
       "mark": {"type": "line", "color": "#222222", "strokeWidth": 1.2},
       "encoding": {"x": {"field": "g", "type": "nominal", "sort": ["WT","cKO"]}, "xOffset": {"field": "c", "type": "nominal", "sort": ["Empty","Stranger 1"]}, "y": {"field": "y", "type": "quantitative"}, "detail": {"field": "g"}, "order": {"field": "o", "type": "quantitative"}}},
      {"data": {"values": [{"g":"WT","t":"**","y":95.3}]}, "mark": {"type": "text", "fontSize": 11, "baseline": "alphabetic", "color": "#222222"},
       "encoding": {"x": {"field": "g", "type": "nominal", "sort": ["WT","cKO"]}, "y": {"field": "y", "type": "quantitative"}, "text": {"field": "t"}}},
      {"data": {"values": [{"g":"cKO","t":"n.s.","y":97.7}]}, "mark": {"type": "text", "fontSize": 12, "baseline": "alphabetic", "color": "#222222"},
       "encoding": {"x": {"field": "g", "type": "nominal", "sort": ["WT","cKO"]}, "y": {"field": "y", "type": "quantitative"}, "text": {"field": "t"}}},
      {"data": {"values": [{"g":"WT","t":"Three-chamber Sociability Test","y":100}]}, "mark": {"type": "text", "dx": 46, "dy": -26.4, "fontSize": 10, "fontWeight": "bold", "color": "#3b5ea8", "baseline": "alphabetic", "align": "center"},
       "encoding": {"x": {"field": "g", "type": "nominal", "sort": ["WT","cKO"]}, "y": {"field": "y", "type": "quantitative"}, "text": {"field": "t"}}},
      {"data": {"values": [{"g":"WT","t":"I","y":100}]}, "mark": {"type": "text", "dx": -108, "dy": -36, "fontSize": 16, "fontWeight": "bold", "color": "#000000", "baseline": "alphabetic", "align": "left"},
       "encoding": {"x": {"field": "g", "type": "nominal", "sort": ["WT","cKO"]}, "y": {"field": "y", "type": "quantitative"}, "text": {"field": "t"}}}
     ]},
     {"data": {"name": "pts"}, "transform": [{"filter": "datum.p === 'I' && datum.c === 'Empty'"}, {"bin": {"step": 4}, "field": "v", "as": "vb"}, {"window": [{"op": "row_number", "as": "r"}], "groupby": ["g","vb"], "sort": [{"field": "v", "order": "descending"}]}],
      "mark": {"type": "point", "filled": true, "size": 24, "opacity": 1},
      "encoding": {"x": {"field": "g", "type": "nominal", "sort": ["WT","cKO"], "scale": {"paddingInner": 0.76, "paddingOuter": 0.38, "align": 0.25}, "axis": null},
       "xOffset": {"field": "r", "type": "ordinal", "scale": {"domain": [4,2,1,3,5], "paddingInner": 0, "paddingOuter": 0}},
       "y": {"field": "v", "type": "quantitative"},
       "color": {"field": "c", "type": "nominal", "scale": {"domain": ["Empty","Stranger 1"], "range": ["#0000ff","#ff0000"]}, "legend": {"title": null}},
       "shape": {"field": "c", "type": "nominal", "scale": {"domain": ["Empty","Stranger 1"], "range": ["circle","square"]}, "legend": {"title": null}}}},
     {"data": {"name": "pts"}, "transform": [{"filter": "datum.p === 'I' && datum.c === 'Stranger 1'"}, {"bin": {"step": 4}, "field": "v", "as": "vb"}, {"window": [{"op": "row_number", "as": "r"}], "groupby": ["g","vb"], "sort": [{"field": "v", "order": "descending"}]}],
      "mark": {"type": "point", "filled": true, "size": 24, "opacity": 1},
      "encoding": {"x": {"field": "g", "type": "nominal", "sort": ["WT","cKO"], "scale": {"paddingInner": 0.76, "paddingOuter": 0.38, "align": 0.75}, "axis": null},
       "xOffset": {"field": "r", "type": "ordinal", "scale": {"domain": [4,2,1,3,5], "paddingInner": 0, "paddingOuter": 0}},
       "y": {"field": "v", "type": "quantitative"},
       "color": {"field": "c", "type": "nominal", "scale": {"domain": ["Empty","Stranger 1"], "range": ["#0000ff","#ff0000"]}, "legend": {"title": null}},
       "shape": {"field": "c", "type": "nominal", "scale": {"domain": ["Empty","Stranger 1"], "range": ["circle","square"]}, "legend": {"title": null}}}}
    ],
    "resolve": {"scale": {"x": "independent", "xOffset": "independent"}, "axis": {"x": "independent"}}
   },
   {
    "width": 200, "height": 134,
    "layer": [
     {"layer": [
      {"data": {"name": "sum2"}, "transform": [{"filter": "datum.p === 'J'"}], "mark": {"type": "tick", "color": "#000000", "thickness": 2, "size": 22},
       "encoding": {"x": {"field": "g", "type": "nominal", "sort": ["WT","cKO"], "scale": {"paddingInner": 0, "paddingOuter": 0}, "axis": {"title": null, "labelPadding": 1}},
        "xOffset": {"field": "c", "type": "nominal", "sort": ["Stranger 1","Stanger 2"], "scale": {"paddingInner": 0.368, "paddingOuter": 0.5}},
        "y": {"field": "m", "type": "quantitative", "scale": {"domain": [0,100], "nice": false}, "axis": {"title": "Time in the chamber (%)", "values": [0,20,40,60,80,100], "tickCount": 20, "labelOverlap": false}}}},
      {"data": {"name": "sum2"}, "transform": [{"filter": "datum.p === 'J'"}], "mark": {"type": "rule", "color": "#000000", "strokeWidth": 1.5},
       "encoding": {"x": {"field": "g", "type": "nominal", "sort": ["WT","cKO"]}, "xOffset": {"field": "c", "type": "nominal", "sort": ["Stranger 1","Stanger 2"]}, "y": {"field": "lo", "type": "quantitative"}, "y2": {"field": "hi"}}},
      {"data": {"name": "sum2"}, "transform": [{"filter": "datum.p === 'J'"}, {"fold": ["lo","hi"], "as": ["k","val"]}], "mark": {"type": "tick", "color": "#000000", "thickness": 1.5, "size": 12},
       "encoding": {"x": {"field": "g", "type": "nominal", "sort": ["WT","cKO"]}, "xOffset": {"field": "c", "type": "nominal", "sort": ["Stranger 1","Stanger 2"]}, "y": {"field": "val", "type": "quantitative"}}},
      {"data": {"values": [{"g":"WT","c":"Stranger 1","y":86.8,"o":1},{"g":"WT","c":"Stranger 1","y":92.3,"o":2},{"g":"WT","c":"Stanger 2","y":92.3,"o":3},{"g":"WT","c":"Stanger 2","y":86.8,"o":4},{"g":"cKO","c":"Stranger 1","y":86.8,"o":1},{"g":"cKO","c":"Stranger 1","y":92.3,"o":2},{"g":"cKO","c":"Stanger 2","y":92.3,"o":3},{"g":"cKO","c":"Stanger 2","y":86.8,"o":4}]},
       "mark": {"type": "line", "color": "#222222", "strokeWidth": 1.2},
       "encoding": {"x": {"field": "g", "type": "nominal", "sort": ["WT","cKO"]}, "xOffset": {"field": "c", "type": "nominal", "sort": ["Stranger 1","Stanger 2"]}, "y": {"field": "y", "type": "quantitative"}, "detail": {"field": "g"}, "order": {"field": "o", "type": "quantitative"}}},
      {"data": {"values": [{"g":"WT","t":"**","y":92.5}]}, "mark": {"type": "text", "fontSize": 11, "baseline": "alphabetic", "color": "#222222"},
       "encoding": {"x": {"field": "g", "type": "nominal", "sort": ["WT","cKO"]}, "y": {"field": "y", "type": "quantitative"}, "text": {"field": "t"}}},
      {"data": {"values": [{"g":"cKO","t":"n.s.","y":97.4}]}, "mark": {"type": "text", "fontSize": 12, "baseline": "alphabetic", "color": "#222222"},
       "encoding": {"x": {"field": "g", "type": "nominal", "sort": ["WT","cKO"]}, "y": {"field": "y", "type": "quantitative"}, "text": {"field": "t"}}},
      {"data": {"values": [{"g":"WT","t":"Social Novelty Test","y":100}]}, "mark": {"type": "text", "dx": 43, "dy": -26.4, "fontSize": 10, "fontWeight": "bold", "color": "#3b5ea8", "baseline": "alphabetic", "align": "center"},
       "encoding": {"x": {"field": "g", "type": "nominal", "sort": ["WT","cKO"]}, "y": {"field": "y", "type": "quantitative"}, "text": {"field": "t"}}},
      {"data": {"values": [{"g":"WT","t":"J","y":100}]}, "mark": {"type": "text", "dx": -104, "dy": -33, "fontSize": 16, "fontWeight": "bold", "color": "#000000", "baseline": "alphabetic", "align": "left"},
       "encoding": {"x": {"field": "g", "type": "nominal", "sort": ["WT","cKO"]}, "y": {"field": "y", "type": "quantitative"}, "text": {"field": "t"}}}
     ]},
     {"data": {"name": "pts"}, "transform": [{"filter": "datum.p === 'J' && datum.c === 'Stranger 1'"}, {"bin": {"step": 4}, "field": "v", "as": "vb"}, {"window": [{"op": "row_number", "as": "r"}], "groupby": ["g","vb"], "sort": [{"field": "v", "order": "descending"}]}],
      "mark": {"type": "point", "filled": true, "size": 24, "opacity": 1},
      "encoding": {"x": {"field": "g", "type": "nominal", "sort": ["WT","cKO"], "scale": {"paddingInner": 0.76, "paddingOuter": 0.38, "align": 0.25}, "axis": null},
       "xOffset": {"field": "r", "type": "ordinal", "scale": {"domain": [4,2,1,3,5], "paddingInner": 0, "paddingOuter": 0}},
       "y": {"field": "v", "type": "quantitative"},
       "color": {"field": "c", "type": "nominal", "scale": {"domain": ["Stranger 1","Stanger 2"], "range": ["#0000ff","#ff0000"]}, "legend": {"title": null}},
       "shape": {"field": "c", "type": "nominal", "scale": {"domain": ["Stranger 1","Stanger 2"], "range": ["circle","square"]}, "legend": {"title": null}}}},
     {"data": {"name": "pts"}, "transform": [{"filter": "datum.p === 'J' && datum.c === 'Stanger 2'"}, {"bin": {"step": 4}, "field": "v", "as": "vb"}, {"window": [{"op": "row_number", "as": "r"}], "groupby": ["g","vb"], "sort": [{"field": "v", "order": "descending"}]}],
      "mark": {"type": "point", "filled": true, "size": 24, "opacity": 1},
      "encoding": {"x": {"field": "g", "type": "nominal", "sort": ["WT","cKO"], "scale": {"paddingInner": 0.76, "paddingOuter": 0.38, "align": 0.75}, "axis": null},
       "xOffset": {"field": "r", "type": "ordinal", "scale": {"domain": [4,2,1,3,5], "paddingInner": 0, "paddingOuter": 0}},
       "y": {"field": "v", "type": "quantitative"},
       "color": {"field": "c", "type": "nominal", "scale": {"domain": ["Stranger 1","Stanger 2"], "range": ["#0000ff","#ff0000"]}, "legend": {"title": null}},
       "shape": {"field": "c", "type": "nominal", "scale": {"domain": ["Stranger 1","Stanger 2"], "range": ["circle","square"]}, "legend": {"title": null}}}}
    ],
    "resolve": {"scale": {"x": "independent", "xOffset": "independent"}, "axis": {"x": "independent"}}
   }
  ]
 }
]
}
